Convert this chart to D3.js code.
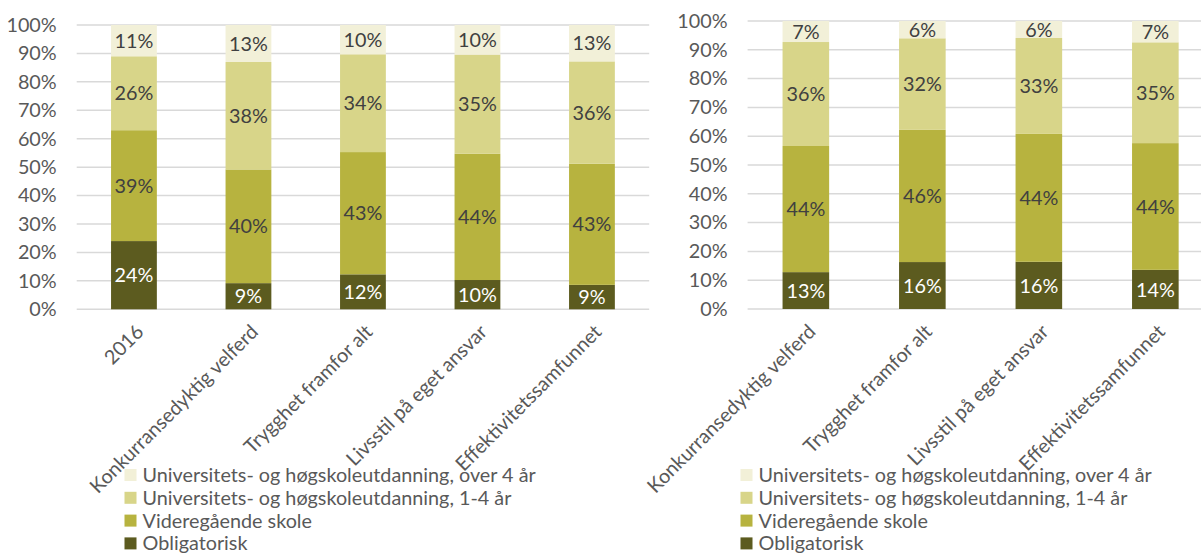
<!DOCTYPE html>
<html>
<head>
<meta charset="utf-8">
<script src="https://cdn.jsdelivr.net/npm/d3@7"></script>
<style>
  html, body { margin: 0; padding: 0; background: #fff; }
  svg { display: block; }
  text { font-family: Lato, "Open Sans", sans-serif; }
</style>
</head>
<body>
<svg id="chart" width="1201" height="554"></svg>
<script>
// Education level shares by scenario (percent)
const seriesNames = [
  "Obligatorisk",
  "Videregående skole",
  "Universitets- og høgskoleutdanning, 1-4 år",
  "Universitets- og høgskoleutdanning, over 4 år"
];
const seriesColors = ["#5c5b1f", "#b7b33f", "#d8d589", "#f2f0d8"];
const labelColors = ["#ffffff", "#404040", "#404040", "#404040"];

// Panel A
const categoriesA = ["2016", "Konkurransedyktig velferd", "Trygghet framfor alt", "Livsstil på eget ansvar", "Effektivitetssamfunnet"];
const obligatoriskA = [24.0, 9.2, 12.3, 10.3, 8.6];
const videregaendeA = [39.0, 40.0, 43.0, 44.4, 42.6];
const hogskole14A   = [26.0, 37.8, 34.4, 34.9, 36.0];
const hogskole4A    = [11.0, 13.0, 10.3, 10.4, 12.8];

// Panel B
const categoriesB = ["Konkurransedyktig velferd", "Trygghet framfor alt", "Livsstil på eget ansvar", "Effektivitetssamfunnet"];
const obligatoriskB = [12.8, 16.3, 16.4, 13.6];
const videregaendeB = [43.8, 45.9, 44.4, 44.0];
const hogskole14B   = [36.1, 31.8, 33.3, 35.0];
const hogskole4B    = [7.3, 6.0, 5.9, 7.4];

const yTicks = [0, 10, 20, 30, 40, 50, 60, 70, 80, 90, 100];

const fontSize = "19.8px";
const svg = d3.select("#chart");

function drawPanel(cfg) {
  const { categories, series, left, step, top, bottom } = cfg;
  const rows = categories.map((c, i) => {
    const r = { cat: c };
    series.forEach((s, k) => r[k] = s[i]);
    return r;
  });
  const stacked = d3.stack().keys(series.map((s, k) => k))(rows);

  const x = d3.scaleBand()
    .domain(categories)
    .range([left, left + step * categories.length])
    .paddingInner(0.6)
    .paddingOuter(0.3);
  const y = d3.scaleLinear().domain([0, 100]).range([bottom, top]);

  const g = svg.append("g");

  // gridlines
  g.append("g")
    .selectAll("line")
    .data(yTicks)
    .join("line")
    .attr("x1", x.range()[0])
    .attr("x2", x.range()[1])
    .attr("y1", d => y(d))
    .attr("y2", d => y(d))
    .attr("stroke", "#d9d9d9")
    .attr("stroke-width", 1.5);

  // y axis labels
  const yAxis = d3.axisLeft(y).tickValues(yTicks).tickFormat(d => d + "%").tickSize(0).tickPadding(20);
  const ya = g.append("g").attr("transform", `translate(${x.range()[0]},0)`).call(yAxis);
  ya.select(".domain").remove();
  ya.selectAll("text")
    .attr("fill", "#595959")
    .style("font-size", fontSize)
    .style("font-family", "Lato, sans-serif");

  // stacked bars
  const layers = g.append("g").selectAll("g")
    .data(stacked)
    .join("g")
    .attr("fill", d => seriesColors[d.key]);
  layers.selectAll("rect")
    .data(d => d)
    .join("rect")
    .attr("x", d => x(d.data.cat))
    .attr("width", x.bandwidth())
    .attr("y", d => y(d[1]))
    .attr("height", d => y(d[0]) - y(d[1]));

  // value labels
  const lab = g.append("g").selectAll("g")
    .data(stacked)
    .join("g")
    .attr("fill", d => labelColors[d.key]);
  lab.selectAll("text")
    .data(d => d)
    .join("text")
    .attr("x", d => x(d.data.cat) + x.bandwidth() / 2)
    .attr("y", d => y((d[0] + d[1]) / 2))
    .attr("dy", "0.36em")
    .attr("text-anchor", "middle")
    .style("font-size", fontSize)
    .text(d => Math.round(d[1] - d[0]) + "%");

  // category labels, rotated
  const xAxis = d3.axisBottom(x).tickSize(0).tickPadding(0);
  const xa = g.append("g").attr("transform", `translate(0,${bottom})`).call(xAxis);
  xa.select(".domain").remove();
  xa.selectAll("text")
    .attr("fill", "#595959")
    .style("font-size", fontSize)
    .style("font-family", "Lato, sans-serif")
    .attr("text-anchor", "end")
    .attr("y", 0)
    .attr("transform", "translate(6,19) rotate(-45)")
    .attr("dy", "0.35em");

  // legend
  const legend = g.append("g")
    .attr("transform", `translate(${cfg.legendX},${cfg.legendY})`);
  const items = legend.selectAll("g")
    .data(d3.range(series.length).reverse())
    .join("g")
    .attr("transform", (d, i) => `translate(0,${i * 22.8})`);
  items.append("rect")
    .attr("x", 0).attr("y", -6)
    .attr("width", 12).attr("height", 12)
    .attr("fill", d => seriesColors[d]);
  items.append("text")
    .attr("x", 18)
    .attr("y", 0)
    .attr("dy", "0.35em")
    .attr("fill", "#595959")
    .style("font-size", fontSize)
    .text(d => seriesNames[d]);
}

drawPanel({
  categories: categoriesA,
  series: [obligatoriskA, videregaendeA, hogskole14A, hogskole4A],
  left: 76.7, step: 114.5, top: 25, bottom: 309.3,
  legendX: 124.5, legendY: 475
});

drawPanel({
  categories: categoriesB,
  series: [obligatoriskB, videregaendeB, hogskole14B, hogskole4B],
  left: 747.6, step: 116.5, top: 21, bottom: 309,
  legendX: 740.5, legendY: 475
});
</script>
</body>
</html>
